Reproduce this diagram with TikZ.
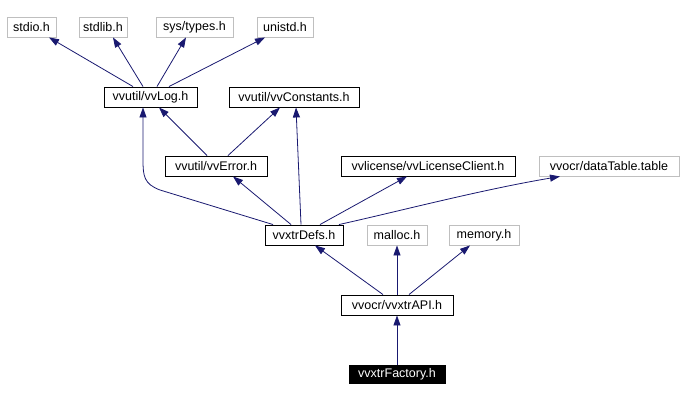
\documentclass[tikz,border=0pt]{standalone}
\usepackage{fontspec}
\setmainfont{Liberation Sans}
\usetikzlibrary{arrows.meta}
\definecolor{edgeblue}{HTML}{191970}
\definecolor{extgray}{HTML}{BFBFBF}
\begin{document}
\begin{tikzpicture}[x=1pt,y=-1pt,
  box/.style={draw=black,line width=0.9pt,inner sep=0pt,minimum height=20pt,
    font=\fontsize{12.5}{14}\selectfont,text=black},
  ext/.style={box,draw=extgray},
  mainbox/.style={box,fill=black,text=white,minimum height=18pt},
  dep/.style={draw=edgeblue,line width=0.8pt,-{Triangle[length=10pt,width=7pt]}}]
\useasboundingbox (0,0) rectangle (682,401);
% row 1
\node[ext,minimum width=49pt] (stdio) at (31.5,27) {stdio.h};
\node[ext,minimum width=48pt] (stdlib) at (103,27) {stdlib.h};
\node[ext,minimum width=77pt] (systypes) at (194.5,27) {sys/types.h};
\node[ext,minimum width=56pt] (unistd) at (285,27) {unistd.h};
% row 2
\node[box,minimum width=93pt] (vvlog) at (150.5,97) {vvutil/vvLog.h};
\node[box,minimum width=130pt] (vvconst) at (294,97) {vvutil/vvConstants.h};
% row 3
\node[box,minimum width=102pt] (vverror) at (216,166) {vvutil/vvError.h};
\node[box,minimum width=174pt] (vvlic) at (428,166) {vvlicense/vvLicenseClient.h};
\node[ext,minimum width=140pt] (datatable) at (609,166) {vvocr/dataTable.table};
% row 4
\node[box,minimum width=78pt] (defs) at (304,235) {vvxtrDefs.h};
\node[ext,minimum width=60pt] (malloc) at (397,235) {malloc.h};
\node[ext,minimum width=70pt] (memory) at (484,235) {memory.h};
% row 5
\node[box,minimum width=112pt] (api) at (397,305) {vvocr/vvxtrAPI.h};
% row 6
\node[mainbox,minimum width=96pt] (factory) at (397,374) {vvxtrFactory.h};
% edges
\draw[dep] ([xshift=-17.5pt]vvlog.north) -- ([xshift=17.5pt]stdio.south);
\draw[dep] ([xshift=-7.5pt]vvlog.north) -- ([xshift=10pt]stdlib.south);
\draw[dep] ([xshift=6.5pt]vvlog.north) -- ([xshift=-8.5pt]systypes.south);
\draw[dep] ([xshift=18.5pt]vvlog.north) -- ([xshift=-20pt]unistd.south);
\draw[dep] ([xshift=-9pt]vverror.north) -- ([xshift=8.5pt]vvlog.south);
\draw[dep] ([xshift=12pt]vverror.north) -- ([xshift=-14pt]vvconst.south);
\draw[dep] ([xshift=-31pt]defs.north) -- (160,190) .. controls (144,184) and (143,176) .. (143,160) -- ([xshift=-7.5pt]vvlog.south);
\draw[dep] ([xshift=-13pt]defs.north) -- ([xshift=17pt]vverror.south);
\draw[dep] ([xshift=-3pt]defs.north) -- ([xshift=2pt]vvconst.south);
\draw[dep] ([xshift=16pt]defs.north) -- ([xshift=-21pt]vvlic.south);
\draw[dep] ([xshift=35pt]defs.north) .. controls (400,211) and (480,190) .. ([xshift=-49pt]datatable.south);
\draw[dep] ([xshift=-14pt]api.north) -- ([xshift=11pt]defs.south);
\draw[dep] (api.north) -- (malloc.south);
\draw[dep] ([xshift=12pt]api.north) -- ([xshift=-14pt]memory.south);
\draw[dep] (factory.north) -- (api.south);
\end{tikzpicture}
\end{document}
